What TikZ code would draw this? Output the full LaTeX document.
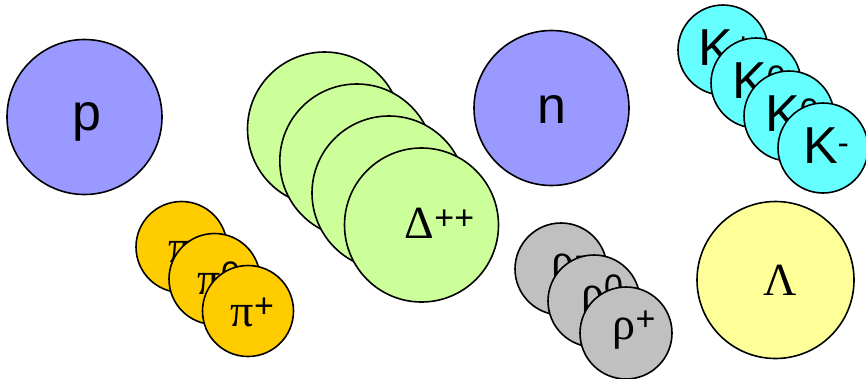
\documentclass[tikz,border=0pt]{standalone}
\usepackage{fontspec}
\setmainfont{Liberation Sans}
\setsansfont{Liberation Sans}
\newfontfamily\greekfont{Liberation Serif}
\usepackage{tikz}
\definecolor{nucleonBlue}{HTML}{9999FF}
\definecolor{deltaGreen}{HTML}{CCFF99}
\definecolor{pionGold}{HTML}{FFCC00}
\definecolor{rhoGray}{HTML}{C0C0C0}
\definecolor{kaonCyan}{HTML}{66FFFF}
\definecolor{lambdaYellow}{HTML}{FFFF99}
\tikzset{
  hadronBall/.style={circle, draw=black, line width=1.6pt, inner sep=0pt},
  latinName/.style={anchor=base, inner sep=0pt, font=\fontsize{52}{52}\selectfont},
  greekName/.style={anchor=base, inner sep=0pt, font=\fontsize{46}{46}\selectfont\greekfont}
}
\newcommand{\hadronSup}[1]{\raisebox{9pt}{\fontsize{34}{34}\selectfont\sffamily #1}}

\begin{document}
\begin{tikzpicture}[x=1pt, y=-1pt,
    baryon/.style={hadronBall, minimum size=155pt},
    meson/.style={hadronBall, minimum size=91pt}
  ]
  \useasboundingbox (0,0) rectangle (866,378);

  % nucleons
  \node[baryon, fill=nucleonBlue] (p) at (84.5,117) {};
  \node[latinName] (pName) at (87,130) {p};
  \node[baryon, fill=nucleonBlue] (n) at (551.5,108) {};
  \node[latinName] (nName) at (552,123) {n};

  % delta stack
  \node[baryon, fill=deltaGreen, minimum size=154pt] (deltaA) at (324.5,129) {};
  \node[baryon, fill=deltaGreen, minimum size=154pt] (deltaB) at (356.8,161) {};
  \node[baryon, fill=deltaGreen, minimum size=154pt] (deltaC) at (389,193) {};
  \node[baryon, fill=deltaGreen, minimum size=154pt] (deltaD) at (421.5,225) {};
  \node[greekName] (deltaName) at (439.5,238) {Δ\hadronSup{++}};

  % pions
  \node[meson, fill=pionGold] (piMinus) at (181.5,247) {};
  \node[greekName] (piMinusName) at (186,262) {π\hadronSup{-}};
  \node[meson, fill=pionGold] (piZero) at (214.5,279) {};
  \node[greekName] (piZeroName) at (219,294) {π\hadronSup{0}};
  \node[meson, fill=pionGold] (piPlus) at (248,311) {};
  \node[greekName] (piPlusName) at (252.5,326) {π\hadronSup{+}};

  % rhos
  \node[meson, fill=rhoGray, minimum size=92pt] (rhoMinus) at (561,269) {};
  \node[greekName] (rhoMinusName) at (569,275) {ρ\hadronSup{-}};
  \node[meson, fill=rhoGray, minimum size=92pt] (rhoZero) at (594,301) {};
  \node[greekName] (rhoZeroName) at (602,307) {ρ\hadronSup{0}};
  \node[meson, fill=rhoGray, minimum size=92pt] (rhoPlus) at (626,333) {};
  \node[greekName] (rhoPlusName) at (634,339) {ρ\hadronSup{+}};

  % kaons
  \node[meson, fill=kaonCyan, minimum size=90pt] (kPlus) at (723,50) {};
  \node[latinName] (kPlusName) at (726,65) {K\hadronSup{+}};
  \node[meson, fill=kaonCyan, minimum size=90pt] (kZero) at (756,83) {};
  \node[latinName] (kZeroName) at (759,98) {K\hadronSup{0}};
  \node[meson, fill=kaonCyan, minimum size=90pt] (kZeroBar) at (789,116) {};
  \node[latinName] (kZeroBarName) at (792,131) {K\hadronSup{0}};
  \node[meson, fill=kaonCyan, minimum size=90pt] (kMinus) at (823,148) {};
  \node[latinName] (kMinusName) at (826,163) {K\hadronSup{-}};

  % lambda
  \node[baryon, fill=lambdaYellow, minimum size=157pt] (lambda) at (775.5,280) {};
  \node[greekName] (lambdaName) at (780,295) {Λ};
\end{tikzpicture}
\end{document}
